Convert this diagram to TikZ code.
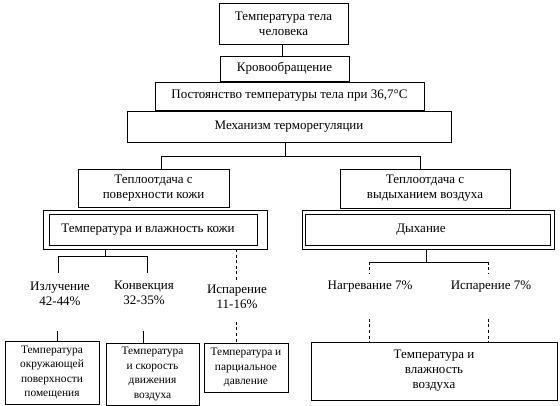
\documentclass[tikz,border=0pt]{standalone}
\usepackage{fontspec}
\setmainfont{Liberation Serif}
\usetikzlibrary{calc}
\begin{document}
\begin{tikzpicture}[x=1pt,y=-1pt,
  every node/.style={font=\fontsize{13}{15}\selectfont, inner sep=1pt, align=center},
  small/.style={font=\fontsize{11.4}{14.4}\selectfont},
  box/.style={draw, line width=0.7pt},
  ln/.style={line width=0.7pt},
  dsh/.style={line width=0.7pt, dash pattern=on 3pt off 2.5pt}]
\useasboundingbox (0,0) rectangle (560,406);
% top column
\node[box, minimum width=129pt, minimum height=41pt] (A) at (283.5,23.5) {Температура тела\\человека};
\node[box, minimum width=129pt, minimum height=25pt] (B) at (284.5,68.5) {Кровообращение};
\node[box, minimum width=269pt, minimum height=28pt] (C) at (289.5,96) {Постоянство температуры тела при 36,7°С};
\node[box, minimum width=324pt, minimum height=31pt] (D) at (289,126.5) {Механизм терморегуляции};
% second level
\node[box, minimum width=151pt, minimum height=38pt] (E1) at (153.5,188) {Теплоотдача с\\поверхности кожи};
\node[box, minimum width=170pt, minimum height=39pt] (E2) at (425,188.5) {Теплоотдача с\\выдыханием воздуха};
\node[box, minimum width=224pt, minimum height=39pt] (F1o) at (155,229.5) {};
\node[box, minimum width=208pt, minimum height=31pt] (F1) at (153,229.5) {};
\node (F1t) at (148,229.5) {Температура и влажность кожи};
\node[box, minimum width=252pt, minimum height=39pt] (F2o) at (428,229.5) {};
\node[box, minimum width=245pt, minimum height=31pt] (F2) at (427.5,229.5) {};
\node (F2t) at (421,229.5) {Дыхание};
% labels
\node (T1) at (60,294) {Излучение\\42-44\%};
\node (T2) at (144,293) {Конвекция\\32-35\%};
\node (T3) at (237,297) {Испарение\\11-16\%};
\node (T4) at (370,287) {Нагревание 7\%};
\node (T5) at (491,287) {Испарение 7\%};
% bottom boxes
\node[box, small, minimum width=94pt, minimum height=63pt] (G1) at (52,372.5) {Температура\\окружающей\\поверхности\\помещения};
\node[box, small, minimum width=93pt, minimum height=62pt] (G2) at (152.5,374) {Температура\\и скорость\\движения\\воздуха};
\node[box, small, minimum width=84pt, minimum height=49pt] (G3) at (246,367.5) {Температура и\\парциальное\\давление};
\node[box, minimum width=246pt, minimum height=58pt] (G4) at (434,371) {Температура и\\влажность\\воздуха};
% coordinates
\coordinate (j0) at (285,156);
\coordinate (j1) at (161,156);
\coordinate (j2) at (420,156);
\coordinate (k0) at (105,256);
\coordinate (k1) at (58,256);
\coordinate (k2) at (147,256);
\coordinate (k1e) at (58,273);
\coordinate (k2e) at (147,273);
\coordinate (k3e) at (236,280);
\coordinate (m0) at (426,262);
\coordinate (m1) at (369,262);
\coordinate (m2) at (488,262);
\coordinate (m1e) at (369,274);
\coordinate (m2e) at (488,274);
\coordinate (b1) at (57,331);
\coordinate (b2) at (143,331);
\coordinate (b3) at (236,322);
\coordinate (b4) at (369,319);
\coordinate (b5) at (488,319);
% connectors
\draw[ln] (A.south -| 282,0) -- (B.north -| 282,0);
\draw[ln] (D.south -| j0) -- (j0);
\draw[ln] (E1.north -| j1) -- (j1) -- (j2) -- (E2.north -| j2);
\draw[ln] (F1o.south -| k0) -- (k0);
\draw[ln] (k1e) -- (k1) -- (k2) -- (k2e);
\draw[dsh] (F1o.south -| k3e) -- (k3e);
\draw[ln] (F2o.south -| m0) -- (m0);
\draw[ln] (m1) -- (m2);
\draw[dsh] (m1) -- (m1e);
\draw[dsh] (m2) -- (m2e);
\draw[ln] (b1) -- (G1.north -| b1);
\draw[ln] (b2) -- (G2.north -| b2);
\draw[dsh] (b3) -- (G3.north -| b3);
\draw[dsh] (b4) -- (G4.north -| b4);
\draw[dsh] (b5) -- (G4.north -| b5);
\end{tikzpicture}
\end{document}
